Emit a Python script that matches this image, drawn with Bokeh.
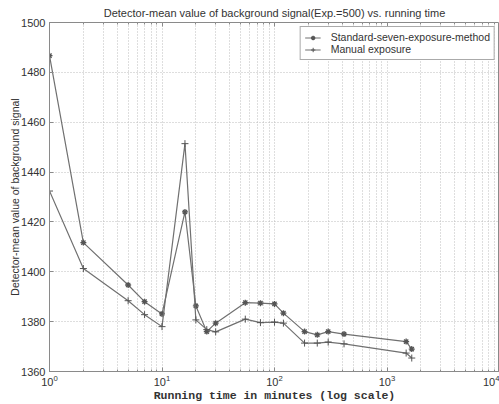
from bokeh.plotting import figure
from bokeh.models import (FixedTicker, LogAxis, Legend, LegendItem,
                          CustomJSTickFormatter)
from bokeh.embed import file_html
from bokeh.resources import INLINE

# Running time in minutes
minutes = [1, 2, 5, 7, 10, 16, 20, 25, 30, 55, 75, 100, 120, 185, 240, 300, 415, 1480, 1660]
# Detector-mean background signal, standard seven-exposure method
standard = [1486.7, 1411.7, 1394.7, 1388.0, 1383.1, 1424.0, 1386.3, 1376.0, 1379.4, 1387.6,
            1387.4, 1387.1, 1383.4, 1376.0, 1374.7, 1376.0, 1375.0, 1372.0, 1369.0]
# Detector-mean background signal, manual exposure
manual = [1432.4, 1401.3, 1388.4, 1382.8, 1378.0, 1451.4, 1380.7, 1376.8, 1375.9, 1381.0,
          1379.6, 1379.8, 1379.4, 1371.4, 1371.4, 1371.8, 1371.1, 1367.4, 1365.4]

x_major = [1, 10, 100, 1000, 10000]
x_minor = [m * d for d in (1, 10, 100, 1000) for m in range(2, 10)]
y_major = list(range(1360, 1501, 20))

SANS = "Liberation Sans"
INK = "#333333"
LINE = "#707070"
GRID = "#bdbdbd"
BOX = "#8a8a8a"

p = figure(width=499, height=404, x_axis_type="log", x_range=(1, 10000),
           y_range=(1360, 1500), output_backend="svg", toolbar_location=None,
           min_border_left=49, min_border_right=0, min_border_top=22,
           min_border_bottom=32)

p.title.text = "Detector-mean value of background signal(Exp.=500) vs. running time"
p.title.text_font = SANS
p.title.text_font_size = "11px"
p.title.text_font_style = "normal"
p.title.text_color = INK
p.title.align = "center"
p.title.vertical_align = "top"
p.title.standoff = 4

p.outline_line_color = BOX
p.outline_line_width = 1

xt = FixedTicker(ticks=x_major, minor_ticks=x_minor)
yt = FixedTicker(ticks=y_major)

for ax in (p.xaxis[0], p.yaxis[0]):
    ax.axis_line_color = BOX
    ax.major_tick_line_color = BOX
    ax.minor_tick_line_color = BOX
    ax.major_tick_in = 4
    ax.major_tick_out = 0
    ax.minor_tick_in = 2
    ax.minor_tick_out = 0
    ax.major_label_text_font = SANS
    ax.major_label_text_font_size = "11px"
    ax.major_label_text_color = INK

p.xaxis[0].ticker = xt
p.xaxis[0].major_label_standoff = 3
p.xaxis[0].axis_label = "Running time in minutes (log scale)"
p.xaxis[0].axis_label_text_font = "Liberation Mono"
p.xaxis[0].axis_label_text_font_style = "bold"
p.xaxis[0].axis_label_text_font_size = "11.5px"
p.xaxis[0].axis_label_text_color = INK
p.xaxis[0].axis_label_standoff = 0

p.yaxis[0].ticker = yt
p.yaxis[0].major_label_standoff = 4
p.yaxis[0].axis_label = "Detector-mean value of background signal"
p.yaxis[0].axis_label_text_font = SANS
p.yaxis[0].axis_label_text_font_style = "normal"
p.yaxis[0].axis_label_text_font_size = "10.5px"
p.yaxis[0].axis_label_text_color = INK
p.yaxis[0].axis_label_standoff = -3

# tick marks on the top edge of the box, no labels
blank = CustomJSTickFormatter(code="return ''")
top = LogAxis(ticker=xt, formatter=blank, major_label_text_font_size="0px",
              major_label_standoff=0, axis_label_standoff=0, axis_line_color=None,
              major_tick_line_color=BOX, minor_tick_line_color=BOX,
              major_tick_in=4, major_tick_out=0, minor_tick_in=2, minor_tick_out=0)
p.add_layout(top, "above")

p.xgrid.ticker = xt
p.xgrid.grid_line_color = GRID
p.xgrid.grid_line_dash = "1 2"
p.xgrid.minor_grid_line_color = GRID
p.xgrid.minor_grid_line_dash = "1 2"
p.ygrid.ticker = yt
p.ygrid.grid_line_color = GRID
p.ygrid.grid_line_dash = "1 2"

l1 = p.line(minutes, standard, line_color=LINE, line_width=1.2)
s1 = p.scatter(minutes, standard, marker="asterisk", size=6, line_color="#555555",
               line_width=1.3)
l2 = p.line(minutes, manual, line_color=LINE, line_width=1.2)
s2 = p.scatter(minutes, manual, marker="cross", size=7, line_color="#555555",
               line_width=1)

legend = Legend(items=[LegendItem(label="Standard-seven-exposure-method", renderers=[l1, s1]),
                       LegendItem(label="Manual exposure", renderers=[l2, s2])],
                location="top_right", margin=4, padding=4, spacing=0,
                glyph_width=16, glyph_height=11, label_height=11,
                label_standoff=10, label_text_font=SANS,
                label_text_font_size="10.5px", label_text_color=INK,
                border_line_color="#555555", border_line_width=1,
                background_fill_color="white", background_fill_alpha=1)
p.add_layout(legend)

open("out.html", "w").write(file_html(p, INLINE))
